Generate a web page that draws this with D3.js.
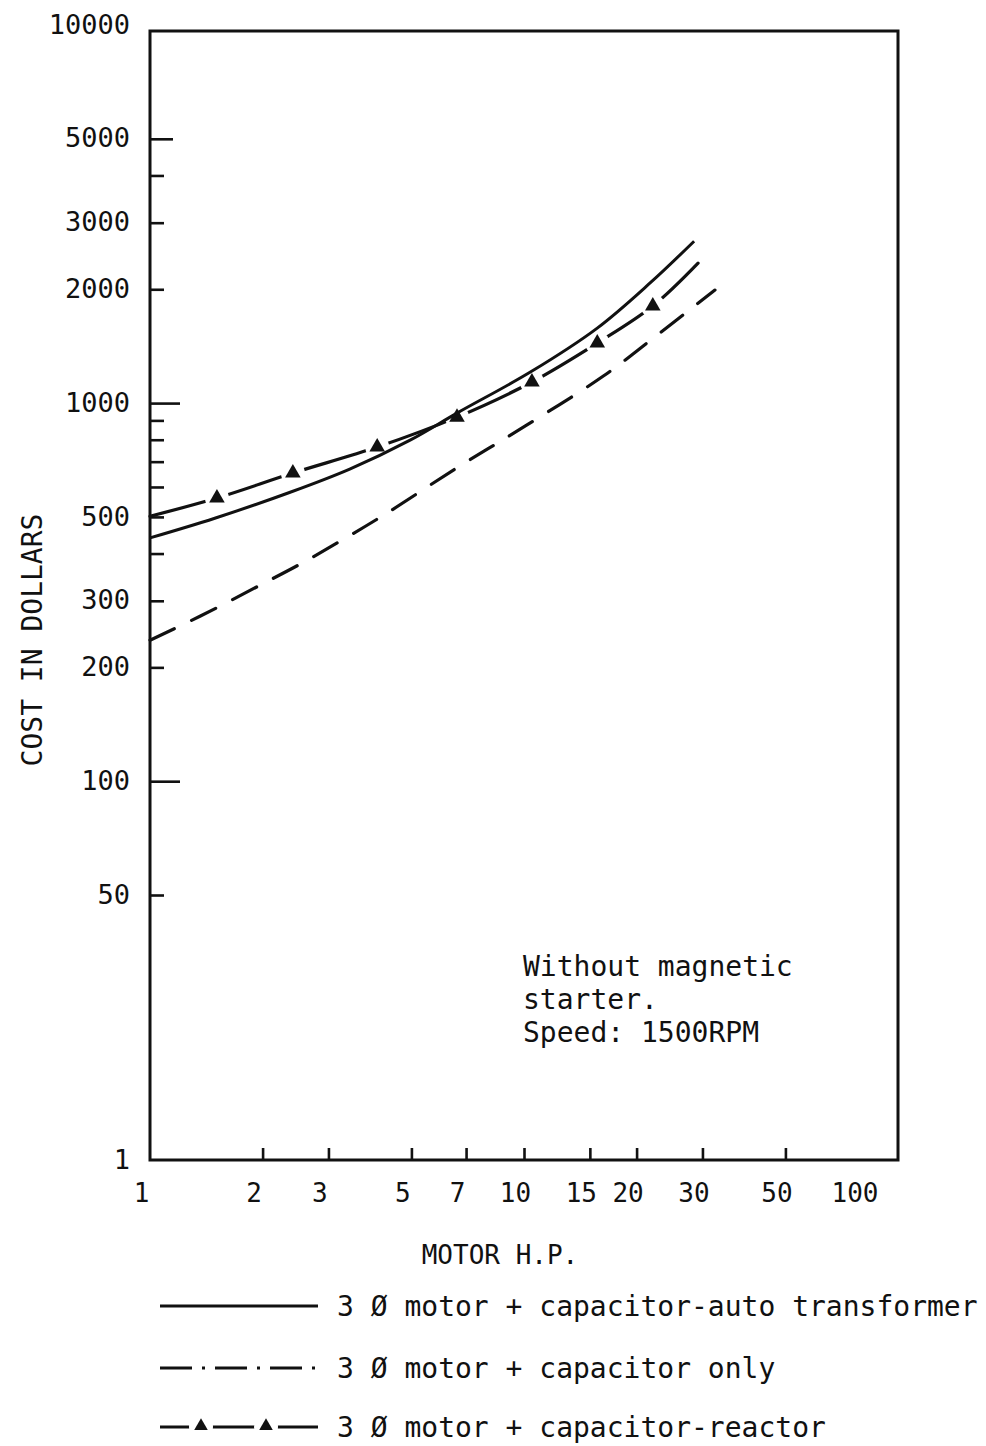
<!DOCTYPE html>
<html>
<head>
<meta charset="utf-8">
<script src="https://cdn.jsdelivr.net/npm/d3@7/dist/d3.min.js"></script>
<style>
  html, body { margin: 0; padding: 0; background: #fff; }
  svg { display: block; }
  text { font-family: "DejaVu Sans Mono", "Liberation Mono", monospace; fill: #111; }
</style>
</head>
<body>
<script>
// ---------- data ----------
const xTickValues = [2, 3, 5, 7, 10, 15, 20, 30, 50];
const xTickLabels = [1, 2, 3, 5, 7, 10, 15, 20, 30, 50, 100];
const yMajorTicks = [1000, 100];
const yMediumTicks = [5000];
const yMinorTicks = [4000, 3000, 2000, 900, 800, 700, 600, 500, 400, 300, 200, 50];
const yTickLabels = [10000, 5000, 3000, 2000, 1000, 500, 300, 200, 100, 50, 1];

// 3 Ø motor + capacitor-auto transformer (solid)
const hpAuto   = [1, 1.49, 2.37, 3.42, 4.96, 6.62, 10.4, 15.7, 21.7, 28.5];
const costAuto = [440, 496, 581, 669, 798, 941, 1208, 1579, 2075, 2680];

// 3 Ø motor + capacitor only (dashed)
const hpCap   = [1, 1.36, 1.97, 2.52, 3.26, 4.25, 6.66, 10.06, 16.3, 22.0, 32.4];
const costCap = [236, 273, 330, 375, 434, 508, 677, 869, 1179, 1477, 1990];

// 3 Ø motor + capacitor-reactor (dash with triangles)
const hpReactor   = [1, 1.51, 2.41, 4.05, 6.62, 10.5, 15.7, 22.1, 29.2];
const costReactor = [502, 561, 653, 765, 918, 1137, 1441, 1806, 2345];
const reactorMarkerIdx = [1, 2, 3, 4, 5, 6, 7];

const legendLabels = [
  "3 Ø motor + capacitor-auto transformer",
  "3 Ø motor + capacitor only",
  "3 Ø motor + capacitor-reactor"
];
const noteLines = ["Without magnetic", "starter.", "Speed: 1500RPM"];

// ---------- layout ----------
const W = 986, H = 1446;
const svg = d3.select("body").append("svg").attr("width", W).attr("height", H);

const x = d3.scaleLog().domain([1, 100]).range([150, 898]);
const y = d3.scaleLog().domain([1, 50, 10000]).range([1160, 895, 25]);
const frameTop = 31;

const line = d3.line().x(d => x(d[0])).y(d => y(d[1])).curve(d3.curveCatmullRom.alpha(0.5));
const zip = (a, b) => a.map((v, i) => [v, b[i]]);

// mask for the triangle line
const defs = svg.append("defs");
const reactorPts = zip(hpReactor, costReactor);
const markerPts = reactorMarkerIdx.map(i => reactorPts[i]);
const mask = defs.append("mask").attr("id", "reactorMask").attr("maskUnits", "userSpaceOnUse")
  .attr("x", 0).attr("y", 0).attr("width", W).attr("height", H);
mask.append("rect").attr("width", W).attr("height", H).attr("fill", "#fff");
mask.selectAll("circle").data(markerPts).join("circle")
  .attr("cx", d => x(d[0])).attr("cy", d => y(d[1])).attr("r", 12).attr("fill", "#000");

// frame
svg.append("rect")
  .attr("x", x(1)).attr("y", frameTop)
  .attr("width", x(100) - x(1)).attr("height", y(1) - frameTop)
  .attr("fill", "none").attr("stroke", "#111").attr("stroke-width", 3);

// y ticks (inward)
function yTicks(values, len) {
  const g = svg.append("g").attr("transform", `translate(${x(1)},0)`)
    .call(d3.axisRight(y).tickValues(values).tickSize(len).tickFormat(""));
  g.select(".domain").remove();
  g.selectAll(".tick line").attr("stroke", "#111").attr("stroke-width", 2.6);
}
yTicks(yMajorTicks, 30);
yTicks(yMediumTicks, 23);
yTicks(yMinorTicks, 14);

// y labels
const gyl = svg.append("g").attr("transform", `translate(${x(1)},0)`)
  .call(d3.axisLeft(y).tickValues(yTickLabels).tickSize(0).tickPadding(20).tickFormat(d3.format("d")));
gyl.select(".domain").remove();
gyl.selectAll("text").attr("font-size", 27).attr("font-family", null).attr("dy", "0.3em")
  .attr("fill", "#111");

// x ticks (inward)
const gxt = svg.append("g").attr("transform", `translate(0,${y(1)})`)
  .call(d3.axisTop(x).tickValues(xTickValues).tickSize(12).tickFormat(""));
gxt.select(".domain").remove();
gxt.selectAll(".tick line").attr("stroke", "#111").attr("stroke-width", 2.6);

// x labels
const gxl = svg.append("g").attr("transform", `translate(0,${y(1)})`)
  .call(d3.axisBottom(x).tickValues(xTickLabels).tickSize(0).tickPadding(24).tickFormat(d3.format("d")));
gxl.select(".domain").remove();
gxl.selectAll("text").attr("font-size", 26).attr("font-family", null).attr("fill", "#111")
  .attr("dx", (d, i, n) => i === n.length - 1 ? -20 : -9)
  .attr("text-anchor", (d, i, n) => i === n.length - 1 ? "end" : "middle");

// axis titles
svg.append("text").attr("transform", "translate(32,640) rotate(-90)")
  .attr("text-anchor", "middle").attr("dominant-baseline", "central")
  .attr("font-size", 28).text("COST IN DOLLARS");
svg.append("text").attr("x", 500).attr("y", 1255)
  .attr("text-anchor", "middle").attr("dominant-baseline", "central")
  .attr("font-size", 26).text("MOTOR H.P.");

// curves
svg.append("path").datum(zip(hpAuto, costAuto)).attr("d", line)
  .attr("fill", "none").attr("stroke", "#111").attr("stroke-width", 3);

svg.append("path").datum(zip(hpCap, costCap)).attr("d", line)
  .attr("fill", "none").attr("stroke", "#111").attr("stroke-width", 3.2)
  .attr("stroke-linecap", "round").attr("stroke-dasharray", "27,19");

svg.append("path").datum(reactorPts).attr("d", line)
  .attr("fill", "none").attr("stroke", "#111").attr("stroke-width", 3.2)
  .attr("stroke-linecap", "round").attr("mask", "url(#reactorMask)");

const tri = d3.symbol().type(d3.symbolTriangle).size(105);
svg.selectAll(".mk").data(markerPts).join("path").attr("class", "mk")
  .attr("transform", d => `translate(${x(d[0])},${y(d[1])})`)
  .attr("d", tri).attr("fill", "#111");

// annotation
svg.append("text").attr("x", 523).attr("font-size", 28)
  .selectAll("tspan").data(noteLines).join("tspan")
  .attr("x", 523).attr("y", (d, i) => 976 + i * 33).text(d => d);

// legend
const legY = [1306, 1368, 1427];
const lx0 = 160, lx1 = 318;
const lg = svg.append("g");
lg.append("line").attr("x1", lx0).attr("x2", lx1).attr("y1", legY[0]).attr("y2", legY[0])
  .attr("stroke", "#111").attr("stroke-width", 3);
lg.append("line").attr("x1", lx0).attr("x2", lx1).attr("y1", legY[1]).attr("y2", legY[1])
  .attr("stroke", "#111").attr("stroke-width", 3).attr("stroke-dasharray", "32,10,3,10");
// triangle legend line
const legTriX = [201, 266];
const lmask = defs.append("mask").attr("id", "legMask").attr("maskUnits", "userSpaceOnUse")
  .attr("x", 0).attr("y", 0).attr("width", W).attr("height", H);
lmask.append("rect").attr("width", W).attr("height", H).attr("fill", "#fff");
lmask.selectAll("circle").data(legTriX).join("circle")
  .attr("cx", d => d).attr("cy", legY[2]).attr("r", 12).attr("fill", "#000");
lg.append("line").attr("x1", lx0).attr("x2", lx1).attr("y1", legY[2]).attr("y2", legY[2])
  .attr("stroke", "#111").attr("stroke-width", 3).attr("mask", "url(#legMask)");
lg.selectAll(".lt").data(legTriX).join("path").attr("class", "lt")
  .attr("transform", d => `translate(${d},${legY[2] - 1})`)
  .attr("d", d3.symbol().type(d3.symbolTriangle).size(80)).attr("fill", "#111");

lg.selectAll(".ltxt").data(legendLabels).join("text").attr("class", "ltxt")
  .attr("x", 337).attr("y", (d, i) => legY[i]).attr("dominant-baseline", "central")
  .attr("font-size", 28).text(d => d);
</script>
</body>
</html>
